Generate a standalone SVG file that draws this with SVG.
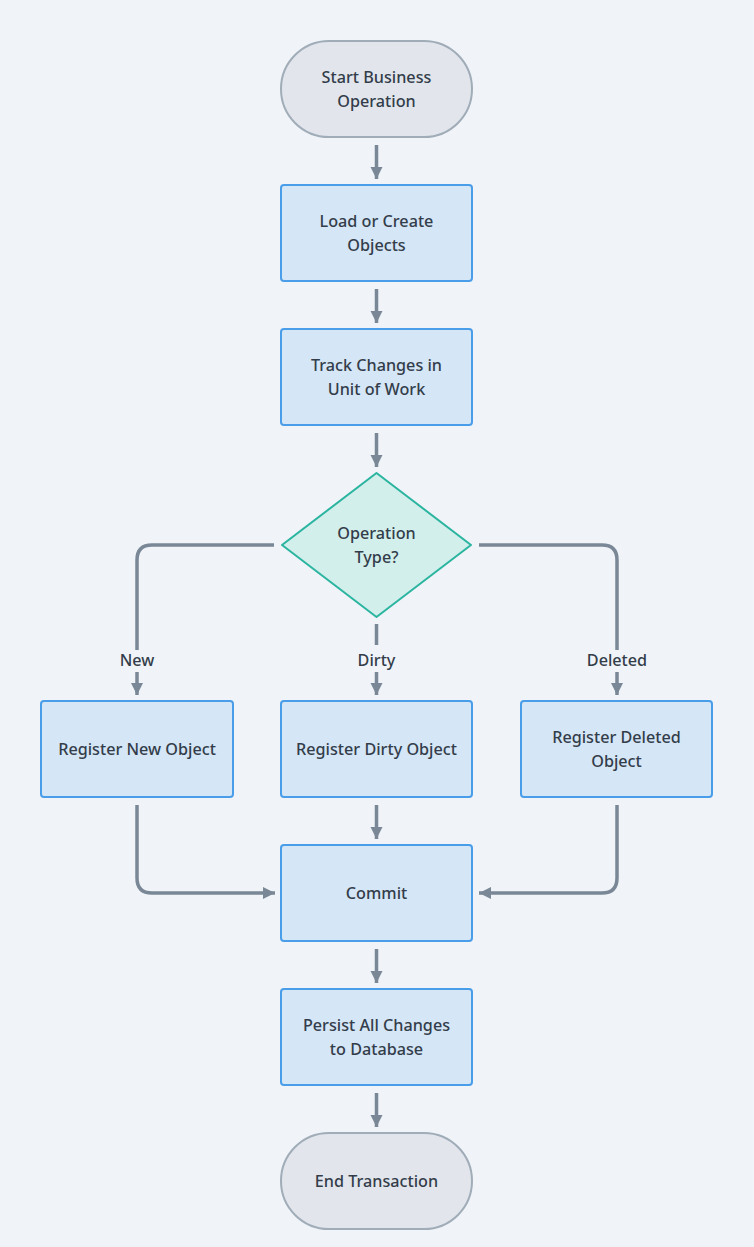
<svg xmlns="http://www.w3.org/2000/svg" width="754" height="1247" viewBox="0 0 754 1247">
<defs>
<marker id="ah" markerUnits="userSpaceOnUse" markerWidth="14" markerHeight="14" viewBox="0 0 14 14" refX="12" refY="7" orient="auto">
<path d="M0,1 L12,7 L0,13 Z" fill="#7a8796"/>
</marker>
<style>
.t{font-family:"Noto Sans",sans-serif;font-size:16.2px;font-weight:500;fill:#333d4a;text-anchor:middle}
.box{fill:#d5e6f6;stroke:#4a9de8;stroke-width:2}
.term{fill:#e2e6ec;stroke:#a0acb8;stroke-width:2}
.dia{fill:#d3efec;stroke:#2bb5a0;stroke-width:2}
.c{fill:none;stroke:#7a8796;stroke-width:3.5}
.a{marker-end:url(#ah)}
</style>
</defs>
<rect width="754" height="1247" fill="#f0f4f8"/>
<g id="connectors">
<path class="c a" d="M376.5,145 V179"/>
<path class="c a" d="M376.5,289 V323"/>
<path class="c a" d="M376.5,433 V467"/>
<path class="c" d="M274,545 H152 Q137,545 137,560 V650"/>
<path class="c a" d="M137,672 V695"/>
<path class="c" d="M376.5,624 V645"/>
<path class="c a" d="M376.5,672 V695"/>
<path class="c" d="M479,545 H602 Q617,545 617,560 V650"/>
<path class="c a" d="M617,672 V695"/>
<path class="c a" d="M376.5,805 V839"/>
<path class="c a" d="M137,805 V878 Q137,893 152,893 H275"/>
<path class="c a" d="M617,805 V878 Q617,893 602,893 H479"/>
<path class="c a" d="M376.5,949 V983"/>
<path class="c a" d="M376.5,1093 V1127"/>
<text class="t" x="137" y="666">New</text>
<text class="t" x="376.5" y="666">Dirty</text>
<text class="t" x="617" y="666">Deleted</text>
</g>
<g id="start"><rect class="term" x="281" y="41" width="191" height="96" rx="48"/><text class="t" x="376.5" y="83">Start Business</text><text class="t" x="376.5" y="107">Operation</text></g>
<g id="load"><rect class="box" x="281" y="185" width="191" height="96" rx="3"/><text class="t" x="376.5" y="227">Load or Create</text><text class="t" x="376.5" y="251">Objects</text></g>
<g id="track"><rect class="box" x="281" y="329" width="191" height="96" rx="3"/><text class="t" x="376.5" y="371">Track Changes in</text><text class="t" x="376.5" y="395">Unit of Work</text></g>
<g id="decision"><path class="dia" d="M376.5,473 L471,545 L376.5,617 L282,545 Z" stroke-linejoin="round"/><text class="t" x="376.5" y="539">Operation</text><text class="t" x="376.5" y="563">Type?</text></g>
<g id="new"><rect class="box" x="41" y="701" width="192" height="96" rx="3"/><text class="t" x="137" y="755">Register New Object</text></g>
<g id="dirty"><rect class="box" x="281" y="701" width="191" height="96" rx="3"/><text class="t" x="376.5" y="755">Register Dirty Object</text></g>
<g id="deleted"><rect class="box" x="521" y="701" width="191" height="96" rx="3"/><text class="t" x="616.5" y="743">Register Deleted</text><text class="t" x="616.5" y="767">Object</text></g>
<g id="commit"><rect class="box" x="281" y="845" width="191" height="96" rx="3"/><text class="t" x="376.5" y="899">Commit</text></g>
<g id="persist"><rect class="box" x="281" y="989" width="191" height="96" rx="3"/><text class="t" x="376.5" y="1031">Persist All Changes</text><text class="t" x="376.5" y="1055">to Database</text></g>
<g id="end"><rect class="term" x="281" y="1133" width="191" height="96" rx="48"/><text class="t" x="376.5" y="1187">End Transaction</text></g>
</svg>
